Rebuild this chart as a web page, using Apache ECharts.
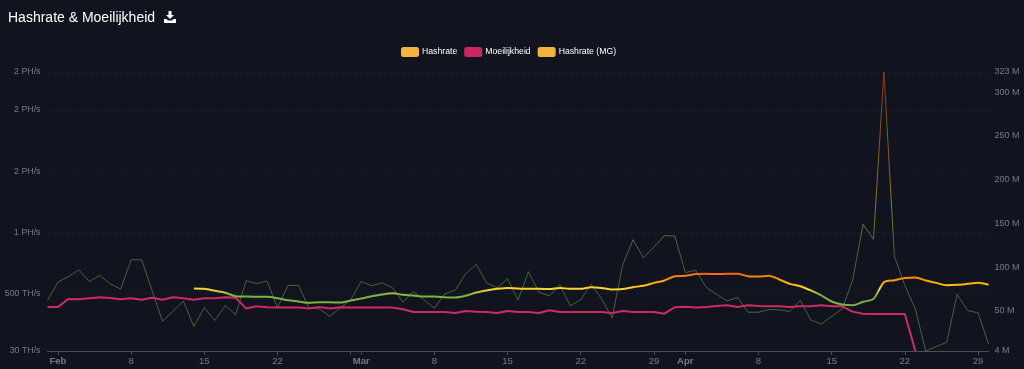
<!DOCTYPE html>
<html><head><meta charset="utf-8">
<style>html,body{margin:0;padding:0;background:#11131f}#c{width:1024px;height:369px}</style>
<script src="https://cdn.jsdelivr.net/npm/echarts@6/dist/echarts.min.js"></script>
</head><body><div id="c"></div>
<script>
const monthDays = [['Jan',31,31],['Feb',1,29],['Mar',1,31],['Apr',1,30]];
const tickLabels = {'Feb-1':'Feb','Feb-8':'8','Feb-15':'15','Feb-22':'22','Feb-29':'','Mar-1':'Mar','Mar-8':'8','Mar-15':'15','Mar-22':'22','Mar-29':'29','Apr-1':'Apr','Apr-8':'8','Apr-15':'15','Apr-22':'22','Apr-29':'29'};
const hashrate = [443,593,639,694,598,648,579,536,776,776,525,273,355,437,230,385,279,402,328,604,582,601,385,566,566,383,374,314,383,448,598,563,587,546,429,516,448,380,497,527,661,738,587,546,620,448,678,511,481,571,399,448,577,456,301,730,940,792,880,973,970,672,689,552,492,440,467,347,347,369,366,353,443,284,249,312,374,607,1066,943,2311,803,566,374,30,66,101,492,361,342,88];
const hashrateMG = [null,null,null,null,null,null,null,null,null,null,null,null,null,null,541,538,522,506,478,475,473,473,462,445,435,424,429,429,426,443,459,478,492,503,489,484,475,475,470,467,481,508,525,538,546,541,538,538,536,546,538,538,552,546,533,536,552,563,587,607,642,645,659,661,659,661,661,642,639,645,615,579,560,525,484,435,410,404,432,456,593,609,626,631,607,587,568,571,579,587,571];
const difficulty = [54.4,54.4,63.5,63.1,64.3,65.4,64.7,63.1,64.3,62.7,65.0,62.7,65.4,64.3,62.7,64.3,64.3,65.4,65.0,52.5,55.1,54.0,53.6,53.6,53.6,52.5,54.4,52.5,54.0,53.6,53.6,53.6,53.6,53.6,51.7,48.6,48.6,48.6,48.6,47.5,49.8,49.0,48.6,47.5,49.8,48.6,48.6,47.5,50.6,48.6,48.6,48.6,48.6,48.6,47.5,49.8,48.6,48.6,48.6,46.7,54.0,54.7,53.6,54.4,55.5,56.3,54.4,56.3,55.5,55.1,55.1,54.4,55.1,55.1,56.3,55.1,55.1,49.0,46.7,46.4,46.4,46.4,46.4,4];
const leftTicks = [30,500,1000,1500,2000,2311];
const rightTicks = [4,50,100,150,200,250,300,323];

const categories = [];
monthDays.forEach(([m,a,b]) => { for (let d=a; d<=b; d++) categories.push(m+'-'+d); });

const grad = (stops) => new echarts.graphic.LinearGradient(0,0,0,0.65,
  stops.map((c,i)=>({offset:i/(stops.length-1),color:c})));
const thinGrad = grad(['#F4511E','#FB8C00','#FFB300','#FDD835','#7CB342']);
const mgGrad = grad(['#F4511E','#FB8C00','#FFB300','#FDD835','#7CB342']);

const fmtLeft = v => v<1000 ? Math.round(v)+' TH/s' : Math.round(v/1000)+' PH/s';
const muted = 'rgba(255,255,255,0.42)';

echarts.init(document.getElementById('c'),null,{renderer:'canvas'}).setOption({
  backgroundColor:'#11131f',
  animation:false,
  title:{text:'Hashrate & Moeilijkheid',left:3,top:6,textStyle:{color:'#fff',fontSize:14,fontWeight:'normal',fontFamily:'Liberation Sans'}},
  graphic:[{type:'group',left:164,top:11,children:[
    {type:'polygon',shape:{points:[[4.5,0],[7.5,0],[7.5,4],[10,4],[6,8],[2,4],[4.5,4]]},style:{fill:'#fff'}},
    {type:'polygon',shape:{points:[[0,8],[2.5,8],[4,9.5],[8,9.5],[9.5,8],[12,8],[12,12],[0,12]]},style:{fill:'#fff'}}
  ]}],
  legend:{top:42,left:396,icon:'roundRect',itemWidth:18,itemHeight:10,itemGap:7,
    textStyle:{color:'#fff',fontSize:8.7,fontFamily:'Liberation Sans',padding:[0,0,0,-2]},
    data:[{name:'Hashrate',itemStyle:{color:'#F3B33D'}},{name:'Moeilijkheid',itemStyle:{color:'#C8285F'}},{name:'Hashrate (MG)',itemStyle:{color:'#F3B33D'}}]},
  grid:{left:47.5,right:35.5,top:72,bottom:18,containLabel:false},
  xAxis:{type:'category',data:categories,boundaryGap:false,
    axisLine:{lineStyle:{color:'#4a4d58'}},
    axisTick:{length:4,lineStyle:{color:'#4a4d58'},interval:(i,v)=>v in tickLabels},
    axisLabel:{interval:(i,v)=>tickLabels[v]!==undefined&&tickLabels[v]!=='',hideOverlap:false,margin:5,
      color:muted,fontSize:9.5,fontFamily:'Liberation Sans',
      formatter:v=>/[A-Za-z]/.test(tickLabels[v])?'{b|'+tickLabels[v]+'}':tickLabels[v],
      rich:{b:{fontWeight:'bold',color:muted,fontSize:9.5,fontFamily:'Liberation Sans'}}},
    splitLine:{show:false}},
  yAxis:[
    {type:'value',min:30,max:2311,
      axisLine:{show:false},axisTick:{show:false,customValues:leftTicks},
      axisLabel:{customValues:leftTicks,formatter:fmtLeft,color:muted,fontSize:8.8,margin:7,fontFamily:'Liberation Sans',showMinLabel:true,showMaxLabel:true},
      splitLine:{show:true,lineStyle:{color:'rgba(255,255,255,0.04)',type:'dashed',width:1}}},
    {type:'value',min:4,max:323,position:'right',
      axisLine:{show:false},axisTick:{show:false,customValues:rightTicks},
      axisLabel:{customValues:rightTicks,formatter:v=>v+' M',color:muted,fontSize:9,margin:6,fontFamily:'Liberation Sans',showMinLabel:true,showMaxLabel:true},
      splitLine:{show:false}}
  ],
  series:[
    {name:'Hashrate',type:'line',data:hashrate,showSymbol:false,yAxisIndex:0,z:1,
      itemStyle:{color:'#F3B33D'},lineStyle:{width:1,color:thinGrad,opacity:0.5},silent:true},
    {name:'Moeilijkheid',type:'line',data:difficulty,showSymbol:false,yAxisIndex:1,z:2,
      itemStyle:{color:'#C8285F'},lineStyle:{width:2,color:'#D02A62'},silent:true},
    {name:'Hashrate (MG)',type:'line',data:hashrateMG,showSymbol:false,yAxisIndex:0,z:3,smooth:0.25,
      itemStyle:{color:'#F3B33D'},lineStyle:{width:2,color:mgGrad},silent:true}
  ]
});
</script></body></html>
